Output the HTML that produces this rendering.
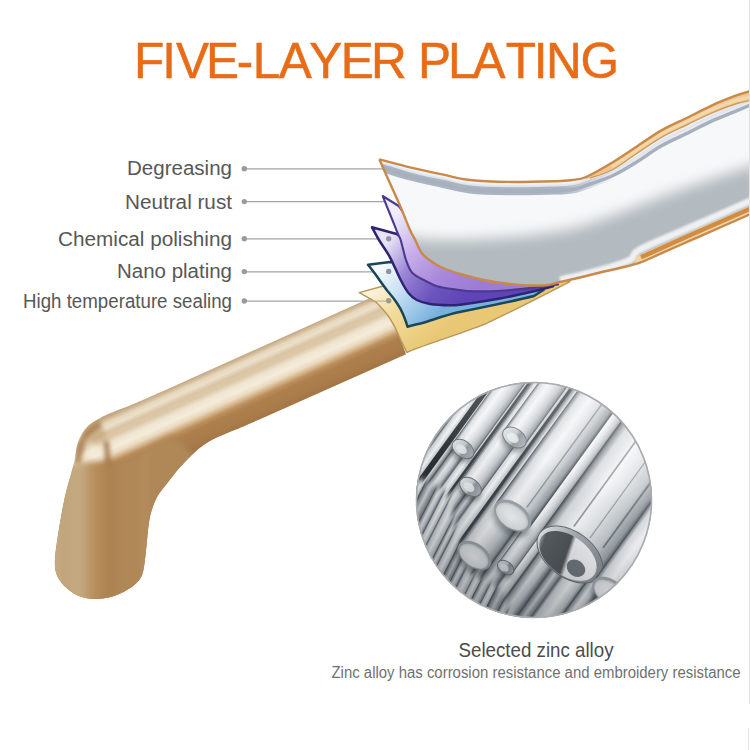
<!DOCTYPE html>
<html><head><meta charset="utf-8">
<style>
html,body{margin:0;padding:0;background:#fff;}
body{width:750px;height:750px;overflow:hidden;position:relative;}
svg{position:absolute;left:0;top:0;}
text{font-family:"Liberation Sans",sans-serif;}
</style></head>
<body>
<svg width="750" height="750" viewBox="0 0 750 750">
<defs>
  <linearGradient id="goldArm" gradientUnits="userSpaceOnUse" x1="280" y1="338.5" x2="306.8" y2="398.1">
    <stop offset="0" stop-color="#c2a680"/>
    <stop offset="0.04" stop-color="#d2ba98"/>
    <stop offset="0.09" stop-color="#e6d6bc"/>
    <stop offset="0.15" stop-color="#ece0ca"/>
    <stop offset="0.23" stop-color="#dac4a4"/>
    <stop offset="0.31" stop-color="#dcc8a8"/>
    <stop offset="0.39" stop-color="#efe4d0"/>
    <stop offset="0.48" stop-color="#f4ecda"/>
    <stop offset="0.56" stop-color="#eadac0"/>
    <stop offset="0.62" stop-color="#d6b68c"/>
    <stop offset="0.68" stop-color="#bc905e"/>
    <stop offset="0.75" stop-color="#ad7f4c"/>
    <stop offset="0.9" stop-color="#a97c4a"/>
    <stop offset="1" stop-color="#a47646"/>
  </linearGradient>
  <linearGradient id="goldLeg" gradientUnits="userSpaceOnUse" x1="56" y1="0" x2="148" y2="0">
    <stop offset="0" stop-color="#c4aa84"/>
    <stop offset="0.065" stop-color="#c0a47c"/>
    <stop offset="0.27" stop-color="#c6aa80"/>
    <stop offset="0.4" stop-color="#b89060"/>
    <stop offset="0.565" stop-color="#ac8250"/>
    <stop offset="0.8" stop-color="#b08858"/>
    <stop offset="0.93" stop-color="#b08858"/>
    <stop offset="0.97" stop-color="#b48e62"/>
    <stop offset="1" stop-color="#b08858"/>
  </linearGradient>
  <radialGradient id="bendHL" cx="93" cy="451" r="9" gradientUnits="userSpaceOnUse">
    <stop offset="0" stop-color="#f6ecd8" stop-opacity="0.95"/>
    <stop offset="1" stop-color="#f6ecd8" stop-opacity="0"/>
  </radialGradient>
  <radialGradient id="bendDk" cx="83" cy="436" r="10" gradientUnits="userSpaceOnUse">
    <stop offset="0" stop-color="#a87a48" stop-opacity="0.8"/>
    <stop offset="1" stop-color="#a87a48" stop-opacity="0"/>
  </radialGradient>
  <linearGradient id="lav" gradientUnits="userSpaceOnUse" x1="395" y1="215" x2="470" y2="292">
    <stop offset="0" stop-color="#f0ecfa"/>
    <stop offset="0.35" stop-color="#c8b0ea"/>
    <stop offset="0.7" stop-color="#a888dc"/>
    <stop offset="1" stop-color="#9c7cd6"/>
  </linearGradient>
  <linearGradient id="purp" gradientUnits="userSpaceOnUse" x1="385" y1="245" x2="460" y2="305">
    <stop offset="0" stop-color="#e8e4f6"/>
    <stop offset="0.35" stop-color="#9a84d4"/>
    <stop offset="0.7" stop-color="#6c54be"/>
    <stop offset="1" stop-color="#5e44b6"/>
  </linearGradient>
  <linearGradient id="blue" gradientUnits="userSpaceOnUse" x1="378" y1="270" x2="430" y2="322">
    <stop offset="0" stop-color="#f6fafd"/>
    <stop offset="0.45" stop-color="#c4def2"/>
    <stop offset="1" stop-color="#78b0de"/>
  </linearGradient>
  <linearGradient id="yel" gradientUnits="userSpaceOnUse" x1="370" y1="292" x2="420" y2="350">
    <stop offset="0" stop-color="#faf3de"/>
    <stop offset="0.4" stop-color="#f2dc9c"/>
    <stop offset="1" stop-color="#e8c874"/>
  </linearGradient>
  <linearGradient id="goldband" gradientUnits="userSpaceOnUse" x1="0" y1="0" x2="5" y2="10">
    <stop offset="0" stop-color="#c98c46"/>
    <stop offset="1" stop-color="#e6b676"/>
  </linearGradient>
  <filter id="blur6" filterUnits="userSpaceOnUse" x="0" y="0" width="750" height="750"><feGaussianBlur stdDeviation="7"/></filter>
  <filter id="blur3" filterUnits="userSpaceOnUse" x="0" y="0" width="750" height="750"><feGaussianBlur stdDeviation="3"/></filter>
  <filter id="blurE" filterUnits="userSpaceOnUse" x="0" y="0" width="750" height="750"><feGaussianBlur stdDeviation="1.9"/></filter>
  <filter id="blurR" filterUnits="userSpaceOnUse" x="-400" y="-400" width="800" height="800"><feGaussianBlur stdDeviation="2.5"/></filter>
  <filter id="blur1" filterUnits="userSpaceOnUse" x="0" y="0" width="750" height="750"><feGaussianBlur stdDeviation="1"/></filter>
  <filter id="blur2" filterUnits="userSpaceOnUse" x="0" y="0" width="750" height="750"><feGaussianBlur stdDeviation="2"/></filter>
  <clipPath id="silverClip"><path d="M379.3,159.3 C384.4,160.6 399.3,164.7 410.0,167.3 C420.7,169.9 433.3,172.6 443.3,174.7 C453.3,176.8 459.2,178.8 470.0,180.0 C480.8,181.2 493.7,181.7 508.0,181.9 C522.3,182.1 545.3,181.5 556.0,181.2 C566.7,180.9 567.0,180.7 572.0,180.0 C577.0,179.3 579.6,179.8 586.0,177.0 C592.4,174.2 602.3,168.5 610.6,163.5 C618.9,158.5 627.6,152.5 636.0,147.0 C644.4,141.5 652.6,135.4 661.0,130.6 C669.4,125.8 678.1,122.2 686.6,118.0 C695.1,113.8 703.6,109.1 712.0,105.3 C720.4,101.5 730.3,97.7 737.0,95.2 C743.7,92.7 749.5,91.3 752.0,90.5 L752,213.4 C746.7,215.8 730.3,223.0 720.0,227.5 C709.7,232.0 700.0,236.3 690.0,240.7 C680.0,245.1 668.3,250.2 660.0,253.9 C651.7,257.6 646.7,260.3 640.0,262.7 C633.3,265.1 626.7,266.4 620.0,268.0 C613.3,269.6 606.7,270.9 600.0,272.5 C593.3,274.1 586.7,275.9 580.0,277.5 C573.3,279.1 565.7,280.7 560.0,282.0 C554.3,283.3 551.3,284.6 546.0,285.2 C540.7,285.8 534.0,285.6 528.0,285.4 C522.0,285.2 517.0,284.8 510.0,284.0 C503.0,283.2 494.0,282.1 486.0,280.5 C478.0,278.9 469.2,276.6 462.0,274.5 C454.8,272.4 448.3,270.3 443.0,268.0 C437.7,265.7 433.7,263.2 430.0,260.5 C426.3,257.8 423.4,255.4 421.0,252.0 C418.6,248.6 417.1,243.7 415.3,240.0 C413.5,236.3 412.4,235.4 410.0,230.0 C407.6,224.6 404.0,215.1 400.7,207.3 C397.4,199.5 393.6,191.3 390.0,183.3 C386.4,175.3 381.1,163.3 379.3,159.3 Z"/></clipPath>
  <clipPath id="goldClip"><path d="M369,298.4 L170,388 C164.4,390.4 146.7,398.5 136.7,402.7 C126.7,406.9 116.7,410.4 110.0,413.3 C103.3,416.2 100.5,417.8 96.7,420.0 C92.9,422.2 90.0,424.0 87.3,426.7 C84.6,429.4 82.5,432.7 80.7,436.0 C78.9,439.3 77.7,442.7 76.7,446.7 C75.7,450.7 75.6,455.6 74.7,460.0 C73.8,464.4 72.9,466.6 71.2,473.3 C69.5,480.0 66.5,489.3 64.3,500.0 C62.0,510.7 59.3,527.0 57.7,537.3 C56.1,547.6 55.0,555.4 54.9,561.6 C54.8,567.8 55.2,570.7 56.8,574.7 C58.4,578.8 60.9,582.5 64.3,585.9 C67.7,589.3 72.6,593.0 77.3,595.2 C82.0,597.4 86.7,598.6 92.3,598.9 C97.9,599.2 105.1,598.5 111.0,597.0 C116.9,595.5 123.0,592.4 127.7,589.6 C132.4,586.8 136.3,583.7 139.0,580.3 C141.7,576.9 142.4,574.6 143.6,569.0 C144.8,563.4 145.6,553.9 146.4,546.7 C147.2,539.5 147.7,531.8 148.5,526.0 C149.3,520.2 149.7,517.0 151.2,512.0 C152.7,507.0 154.9,500.8 157.6,496.0 C160.3,491.2 163.5,488.0 167.2,483.2 C170.9,478.4 175.2,472.5 180.0,467.2 C184.8,461.9 190.7,455.7 196.0,451.2 C201.3,446.7 205.3,443.6 212.0,440.0 C218.7,436.4 228.0,433.1 236.0,429.6 C244.0,426.1 256.0,420.9 260.0,419.2 L406,354.2 C405.1,351.8 402.5,344.4 400.7,340.0 C398.9,335.6 397.5,332.2 395.3,328.0 C393.1,323.8 390.4,318.9 387.3,314.7 C384.2,310.5 379.8,305.4 376.7,302.7 C373.6,300.0 370.3,299.2 369.0,298.4 Z"/></clipPath>
  <clipPath id="circ"><circle cx="534" cy="500" r="118"/></clipPath>
  <linearGradient id="rA" x1="0" y1="0" x2="0" y2="1">
    <stop offset="0" stop-color="#3a4046"/>
    <stop offset="0.12" stop-color="#8f969c"/>
    <stop offset="0.4" stop-color="#e8ebed"/>
    <stop offset="0.7" stop-color="#c6cbd0"/>
    <stop offset="1" stop-color="#5a6168"/>
  </linearGradient>
  <linearGradient id="rB" x1="0" y1="0" x2="0" y2="1">
    <stop offset="0" stop-color="#50575e"/>
    <stop offset="0.15" stop-color="#cfd4d8"/>
    <stop offset="0.5" stop-color="#f4f6f7"/>
    <stop offset="0.85" stop-color="#bfc5ca"/>
    <stop offset="1" stop-color="#6a7178"/>
  </linearGradient>
  <linearGradient id="rC" x1="0" y1="0" x2="0" y2="1">
    <stop offset="0" stop-color="#444a50"/>
    <stop offset="0.2" stop-color="#8f969c"/>
    <stop offset="0.5" stop-color="#d4d8dc"/>
    <stop offset="1" stop-color="#6a7178"/>
  </linearGradient>
  <linearGradient id="rodf" x1="0" y1="0" x2="0" y2="1">
    <stop offset="0" stop-color="#3e444a"/>
    <stop offset="0.04" stop-color="#8a9096"/>
    <stop offset="0.12" stop-color="#d8dcdf"/>
    <stop offset="0.35" stop-color="#f4f5f6"/>
    <stop offset="0.55" stop-color="#e0e3e6"/>
    <stop offset="0.75" stop-color="#c4c9cd"/>
    <stop offset="0.92" stop-color="#969da3"/>
    <stop offset="1" stop-color="#454b51"/>
  </linearGradient>
  <radialGradient id="endg" cx="0.4" cy="0.4" r="0.7">
    <stop offset="0" stop-color="#f4f6f7"/>
    <stop offset="0.5" stop-color="#c2c7cc"/>
    <stop offset="1" stop-color="#80878d"/>
  </radialGradient>
  <linearGradient id="nutg" x1="0" y1="0" x2="0" y2="1">
    <stop offset="0" stop-color="#dfe2e5"/>
    <stop offset="0.45" stop-color="#c4c9cd"/>
    <stop offset="0.6" stop-color="#8e959b"/>
    <stop offset="1" stop-color="#a9afb4"/>
  </linearGradient>
  <radialGradient id="faceg" cx="0.45" cy="0.5" r="0.6">
    <stop offset="0" stop-color="#f6f7f8"/>
    <stop offset="0.7" stop-color="#e2e5e8"/>
    <stop offset="1" stop-color="#b4bac0"/>
  </radialGradient>
  <radialGradient id="tubeg" cx="0.35" cy="0.3" r="0.8">
    <stop offset="0" stop-color="#4e5459"/>
    <stop offset="0.5" stop-color="#6e757b"/>
    <stop offset="0.75" stop-color="#c8ccd0"/>
    <stop offset="1" stop-color="#eef0f2"/>
  </radialGradient>
  <linearGradient id="bigface" x1="0" y1="0" x2="0" y2="1">
    <stop offset="0" stop-color="#c8ccd0"/>
    <stop offset="0.12" stop-color="#5a6064"/>
    <stop offset="0.45" stop-color="#50565b"/>
    <stop offset="0.52" stop-color="#f4f5f6"/>
    <stop offset="0.85" stop-color="#f0f2f3"/>
    <stop offset="1" stop-color="#c4c9cd"/>
  </linearGradient>
  <linearGradient id="circShade" gradientUnits="userSpaceOnUse" x1="500" y1="620" x2="590" y2="400">
    <stop offset="0" stop-color="#20262c" stop-opacity="0.36"/>
    <stop offset="0.5" stop-color="#20262c" stop-opacity="0.04"/>
    <stop offset="0.7" stop-color="#ffffff" stop-opacity="0.1"/>
    <stop offset="1" stop-color="#ffffff" stop-opacity="0.25"/>
  </linearGradient>
  <mask id="llmask" maskUnits="userSpaceOnUse" x="380" y="360" width="300" height="300"><path d="M400,470 L448,492 L456,530 L468,572 L500,588 L520,640 L400,640 Z" fill="#fff" filter="url(#blur3)"/></mask>
</defs>

<!-- Title -->
<text x="134 162.3 176 206 236.7 252.7 278.8 309.3 340.8 371.1 395 418 448.1 472.4 505.8 533.8 546 580.5" y="78.3" font-size="49.5" fill="#e86c18" stroke="#e86c18" stroke-width="0.5">FIVE-LAYER PLATING</text>

<!-- Labels -->
<g font-size="19.5" fill="#575757" text-anchor="end">
  <text x="232" y="174.6" textLength="105" lengthAdjust="spacingAndGlyphs">Degreasing</text>
  <text x="232" y="208.6" textLength="107" lengthAdjust="spacingAndGlyphs">Neutral rust</text>
  <text x="232" y="245.8" textLength="174" lengthAdjust="spacingAndGlyphs">Chemical polishing</text>
  <text x="232" y="277.6" textLength="115" lengthAdjust="spacingAndGlyphs">Nano plating</text>
  <text x="232" y="307.6" textLength="209" lengthAdjust="spacingAndGlyphs">High temperature sealing</text>
</g>
<g stroke="#a4a4a4" stroke-width="1.3">
  <line x1="244" y1="168.8" x2="383" y2="168.8"/>
  <line x1="244" y1="201.7" x2="384" y2="201.7"/>
  <line x1="244" y1="238.8" x2="389" y2="238.8"/>
  <line x1="244" y1="271.8" x2="389" y2="271.8"/>
  <line x1="244" y1="301.1" x2="362" y2="301.1"/>
</g>
<g fill="#9a9a9a">
  <circle cx="244.3" cy="168.7" r="2.7"/>
  <circle cx="244.3" cy="201.6" r="2.7"/>
  <circle cx="244.3" cy="238.7" r="2.7"/>
  <circle cx="244.3" cy="271.6" r="2.7"/>
  <circle cx="244.3" cy="301" r="2.7"/>
</g>

<!-- Gold handle -->
<path fill="url(#goldArm)" d="M369,298.4 L170,388 C164.4,390.4 146.7,398.5 136.7,402.7 C126.7,406.9 116.7,410.4 110.0,413.3 C103.3,416.2 100.5,417.8 96.7,420.0 C92.9,422.2 90.0,424.0 87.3,426.7 C84.6,429.4 82.5,432.7 80.7,436.0 C78.9,439.3 77.7,442.7 76.7,446.7 C75.7,450.7 75.6,455.6 74.7,460.0 C73.8,464.4 72.9,466.6 71.2,473.3 C69.5,480.0 66.5,489.3 64.3,500.0 C62.0,510.7 59.3,527.0 57.7,537.3 C56.1,547.6 55.0,555.4 54.9,561.6 C54.8,567.8 55.2,570.7 56.8,574.7 C58.4,578.8 60.9,582.5 64.3,585.9 C67.7,589.3 72.6,593.0 77.3,595.2 C82.0,597.4 86.7,598.6 92.3,598.9 C97.9,599.2 105.1,598.5 111.0,597.0 C116.9,595.5 123.0,592.4 127.7,589.6 C132.4,586.8 136.3,583.7 139.0,580.3 C141.7,576.9 142.4,574.6 143.6,569.0 C144.8,563.4 145.6,553.9 146.4,546.7 C147.2,539.5 147.7,531.8 148.5,526.0 C149.3,520.2 149.7,517.0 151.2,512.0 C152.7,507.0 154.9,500.8 157.6,496.0 C160.3,491.2 163.5,488.0 167.2,483.2 C170.9,478.4 175.2,472.5 180.0,467.2 C184.8,461.9 190.7,455.7 196.0,451.2 C201.3,446.7 205.3,443.6 212.0,440.0 C218.7,436.4 228.0,433.1 236.0,429.6 C244.0,426.1 256.0,420.9 260.0,419.2 L406,354.2 C405.1,351.8 402.5,344.4 400.7,340.0 C398.9,335.6 397.5,332.2 395.3,328.0 C393.1,323.8 390.4,318.9 387.3,314.7 C384.2,310.5 379.8,305.4 376.7,302.7 C373.6,300.0 370.3,299.2 369.0,298.4 Z"/>
<g clip-path="url(#goldClip)">
  <path d="M40,464 L92,462 C108,464 125,460 140,452 L172,436 L210,470 L175,620 L40,620 Z" fill="url(#goldLeg)" filter="url(#blur3)"/>
  <ellipse cx="95" cy="434" rx="11" ry="7" fill="#c6a476" fill-opacity="0.7" filter="url(#blur2)"/>
  <path d="M106,441 C107,448 108,455 108,464" fill="none" stroke="#9a6e40" stroke-width="5.5" stroke-opacity="0.8" filter="url(#blurE)"/>
  <path d="M101,424 C91,428 85,434 81.5,442 C79.5,449 78.5,456 77.5,463" fill="none" stroke="#a47848" stroke-width="7" stroke-opacity="0.8" filter="url(#blurE)"/>
  <ellipse cx="93" cy="451" rx="9" ry="8" fill="url(#bendHL)"/>
</g>

<!-- Layers -->
<path fill="url(#yel)" stroke="#b89658" stroke-width="1.4" stroke-linejoin="round" d="M359.3,292.7 L383.3,286 L430,272 L520,270 L570,281.6 C548,293 515,310 486,323.6 C460,334 430,343 406.8,352.4 C404,346 402,343 400.7,340 C398,333 396,330 395.3,328 C392,322 390,318 387.3,314.7 C383,309 380,306 376.7,302.7 C370,298 365,296 359.3,292.7 Z"/>
<line x1="362" y1="301.1" x2="386" y2="301.1" stroke="#b8a890" stroke-width="1"/>
<circle cx="388.7" cy="300.7" r="2.7" fill="#a09a88"/>
<path fill="url(#blue)" stroke="#1b4658" stroke-width="2.5" stroke-linejoin="round" d="M368,264.7 L390,262 L430,265 L520,280 L543.6,290 C540,292 537,294 534,296 C510,302 480,308 462,311.6 C445,315 433,320 423.3,322.7 C416,324.5 411,325.5 407.5,326.7 C406,321 404.5,318 403.3,314.7 C401,309 399,306 396.7,302.7 C393,297 390,294 387.3,290.7 C383,285 380,281 376.7,276 C373,271 370.5,268 368,264.7 Z"/>
<circle cx="388.7" cy="271.4" r="2.7" fill="#8a96a0"/>
<path fill="url(#purp)" stroke="#2e2474" stroke-width="2.5" stroke-linejoin="round" d="M396.7,234 L372,227.3 C373.2,229.4 376.0,235.0 379.0,240.0 C382.0,245.0 386.4,250.6 390.0,257.3 C393.6,264.0 397.6,274.0 400.7,280.0 C403.8,286.0 406.0,290.0 408.7,293.3 C411.4,296.6 413.1,298.2 416.7,300.0 C420.2,301.8 424.4,303.1 430.0,304.0 C435.6,304.9 444.7,305.2 450.0,305.3 C455.3,305.4 453.7,305.5 462.0,304.4 C470.3,303.3 488.0,300.7 500.0,298.5 C512.0,296.3 525.2,293.2 534.0,291.2 C542.8,289.2 549.8,287.2 553.0,286.4 L540,275 L450,262 L405,240 Z"/>
<circle cx="388.7" cy="238.7" r="2.7" fill="#9a94a8"/>
<path fill="url(#lav)" stroke="#4a3a90" stroke-width="2.1" stroke-linejoin="round" d="M398.7,206 L382.7,196 C383.9,199.0 387.4,207.7 390.0,214.0 C392.6,220.3 396.2,229.7 398.0,234.0 C399.8,238.3 399.8,237.3 400.7,240.0 C401.6,242.7 402.4,246.7 403.3,250.0 C404.2,253.3 404.6,256.2 406.0,260.0 C407.4,263.8 408.9,269.1 412.0,272.5 C415.1,275.9 420.4,278.2 424.7,280.5 C429.0,282.8 432.8,285.0 438.0,286.5 C443.2,288.0 450.0,288.7 456.0,289.5 C462.0,290.3 465.8,291.1 474.0,291.3 C482.2,291.5 495.0,291.1 505.0,290.5 C515.0,289.9 525.2,288.6 534.0,287.6 C542.8,286.6 554.0,285.0 558.0,284.5 L540,272 L440,250 L405,215 Z"/>

<!-- Silver main -->
<linearGradient id="rimfade" gradientUnits="userSpaceOnUse" x1="560" y1="0" x2="615" y2="0">
  <stop offset="0" stop-color="#abb4c2" stop-opacity="1"/>
  <stop offset="1" stop-color="#abb4c2" stop-opacity="0"/>
</linearGradient>
<g clip-path="url(#silverClip)">
  <rect x="370" y="80" width="390" height="220" fill="#f7f8f9"/>
  <path d="M395.0,236.0 C402.5,236.7 422.5,239.7 440.0,240.0 C457.5,240.3 480.0,239.5 500.0,238.0 C520.0,236.5 543.3,234.0 560.0,231.0 C576.7,228.0 585.0,225.0 600.0,220.0 C615.0,215.0 633.3,207.2 650.0,201.0 C666.7,194.8 681.7,189.3 700.0,183.0 C718.3,176.7 750.0,166.3 760.0,163.0 L760,300 L395,300 Z" fill="#b3bac0" filter="url(#blur6)"/>
  <path d="M560.0,280.0 C566.7,278.3 588.3,273.3 600.0,270.0 C611.7,266.7 623.3,263.4 630.0,260.0 C636.7,256.6 630.0,254.9 640.0,249.5 C650.0,244.1 670.8,235.9 690.0,227.5 C709.2,219.1 744.2,203.7 755.0,198.9" fill="none" stroke="#eef0f1" stroke-width="7" filter="url(#blur1)"/>
  <path d="M382.0,163.5 C386.7,164.9 399.8,169.3 410.0,172.0 C420.2,174.7 433.3,177.3 443.3,179.5 C453.3,181.7 459.2,183.8 470.0,185.0 C480.8,186.2 493.7,186.6 508.0,186.8 C522.3,187.0 544.8,186.5 556.0,186.1 C567.2,185.7 569.3,185.6 575.0,184.5 C580.7,183.4 583.8,181.7 590.0,179.5 C596.2,177.3 604.3,175.1 612.0,171.5 C619.7,167.9 627.8,163.0 636.0,158.0 C644.2,153.0 652.6,146.4 661.0,141.6 C669.4,136.8 678.1,133.2 686.6,129.0 C695.1,124.8 703.6,120.1 712.0,116.3 C720.4,112.5 729.8,109.2 737.0,106.2 C744.2,103.2 752.0,99.8 755.0,98.5" fill="none" stroke="#dde2ea" stroke-width="3.5" filter="url(#blur1)"/>
  <path d="M382.0,168.0 C386.7,169.4 399.8,173.8 410.0,176.5 C420.2,179.2 433.3,181.8 443.3,184.0 C453.3,186.2 459.2,188.3 470.0,189.5 C480.8,190.7 493.7,191.1 508.0,191.3 C522.3,191.5 544.8,191.0 556.0,190.6 C567.2,190.2 569.3,190.1 575.0,189.0 C580.7,187.9 583.8,186.2 590.0,184.0 C596.2,181.8 608.3,177.3 612.0,176.0" fill="none" stroke="url(#rimfade)" stroke-width="8"/>
  <path d="M382.0,168.0 C386.7,169.4 399.8,173.8 410.0,176.5 C420.2,179.2 433.3,181.8 443.3,184.0 C453.3,186.2 459.2,188.3 470.0,189.5 C480.8,190.7 493.7,191.1 508.0,191.3 C522.3,191.5 544.8,191.0 556.0,190.6 C567.2,190.2 569.3,190.1 575.0,189.0 C580.7,187.9 583.8,186.2 590.0,184.0 C596.2,181.8 604.3,179.6 612.0,176.0 C619.7,172.4 627.8,167.5 636.0,162.5 C644.2,157.5 652.6,150.9 661.0,146.1 C669.4,141.3 678.1,137.7 686.6,133.5 C695.1,129.3 703.6,124.6 712.0,120.8 C720.4,117.0 729.8,113.7 737.0,110.7 C744.2,107.7 752.0,104.3 755.0,103.0" fill="none" stroke="#a7b0bd" stroke-width="3.5"/>
  <path d="M580.0,178.6 C581.0,178.3 580.9,179.5 586.0,177.0 C591.1,174.5 602.3,168.5 610.6,163.5 C618.9,158.5 627.6,152.5 636.0,147.0 C644.4,141.5 652.6,135.4 661.0,130.6 C669.4,125.8 678.1,122.2 686.6,118.0 C695.1,113.8 703.6,109.1 712.0,105.3 C720.4,101.5 730.3,97.7 737.0,95.2 C743.7,92.7 749.5,91.3 752.0,90.5 L752,100 C749.5,100.6 743.7,101.4 737.0,103.5 C730.3,105.6 720.4,109.2 712.0,112.8 C703.6,116.4 695.1,120.9 686.6,125.0 C678.1,129.1 669.4,132.8 661.0,137.6 C652.6,142.4 644.2,148.6 636.0,154.0 C627.8,159.4 619.7,166.0 612.0,170.0 C604.3,174.0 595.3,176.4 590.0,178.0 C584.7,179.6 581.7,179.2 580.0,179.5 Z" fill="#eec590"/>
  <path d="M612.0,166.7 C616.0,164.0 627.8,156.1 636.0,150.7 C644.2,145.3 652.6,139.1 661.0,134.3 C669.4,129.5 678.1,125.8 686.6,121.7 C695.1,117.6 703.6,113.1 712.0,109.5 C720.4,105.9 730.3,102.3 737.0,100.2 C743.7,98.1 749.5,97.3 752.0,96.7" fill="none" stroke="#f6dfb6" stroke-width="2.5" filter="url(#blur1)"/>
  <path d="M590.0,178.0 C593.7,176.7 604.3,174.0 612.0,170.0 C619.7,166.0 627.8,159.4 636.0,154.0 C644.2,148.6 652.6,142.4 661.0,137.6 C669.4,132.8 678.1,129.1 686.6,125.0 C695.1,120.9 703.6,116.4 712.0,112.8 C720.4,109.2 730.3,105.6 737.0,103.5 C743.7,101.4 749.5,100.6 752.0,100.0" fill="none" stroke="#d29a58" stroke-width="1.4"/>
  <path d="M636.0,260.0 C636.8,259.1 632.0,259.1 641.0,254.5 C650.0,249.9 671.0,240.9 690.0,232.5 C709.0,224.1 744.2,208.7 755.0,203.9 L755,212.1 C744.2,216.9 709.2,232.3 690.0,240.7 C670.8,249.1 649.3,258.9 640.0,262.7 C630.7,266.5 635.0,263.4 634.0,263.5 Z" fill="#f2d4a2"/>
  <path d="M641.0,257.3 C649.2,253.6 671.0,243.7 690.0,235.3 C709.0,226.9 744.2,211.5 755.0,206.7" fill="none" stroke="#cf8c42" stroke-width="4.5"/>
</g>
<path d="M379.3,159.3 C384.4,160.6 399.3,164.7 410.0,167.3 C420.7,169.9 433.3,172.6 443.3,174.7 C453.3,176.8 459.2,178.8 470.0,180.0 C480.8,181.2 493.7,181.7 508.0,181.9 C522.3,182.1 545.3,181.5 556.0,181.2 C566.7,180.9 567.0,180.7 572.0,180.0 C577.0,179.3 579.6,179.8 586.0,177.0 C592.4,174.2 602.3,168.5 610.6,163.5 C618.9,158.5 627.6,152.5 636.0,147.0 C644.4,141.5 652.6,135.4 661.0,130.6 C669.4,125.8 678.1,122.2 686.6,118.0 C695.1,113.8 703.6,109.1 712.0,105.3 C720.4,101.5 730.3,97.7 737.0,95.2 C743.7,92.7 749.5,91.3 752.0,90.5" fill="none" stroke="#c8894a" stroke-width="2.4"/>
<path d="M752.0,213.4 C746.7,215.8 730.3,223.0 720.0,227.5 C709.7,232.0 700.0,236.3 690.0,240.7 C680.0,245.1 668.3,250.2 660.0,253.9 C651.7,257.6 646.7,260.3 640.0,262.7 C633.3,265.1 626.7,266.4 620.0,268.0 C613.3,269.6 606.7,270.9 600.0,272.5 C593.3,274.1 586.7,275.9 580.0,277.5 C573.3,279.1 565.7,280.7 560.0,282.0 C554.3,283.3 551.3,284.6 546.0,285.2 C540.7,285.8 534.0,285.6 528.0,285.4 C522.0,285.2 517.0,284.8 510.0,284.0 C503.0,283.2 494.0,282.1 486.0,280.5 C478.0,278.9 469.2,276.6 462.0,274.5 C454.8,272.4 448.3,270.3 443.0,268.0 C437.7,265.7 433.7,263.2 430.0,260.5 C426.3,257.8 423.4,255.4 421.0,252.0 C418.6,248.6 417.1,243.7 415.3,240.0 C413.5,236.3 412.4,235.4 410.0,230.0 C407.6,224.6 404.0,215.1 400.7,207.3 C397.4,199.5 393.6,191.3 390.0,183.3 C386.4,175.3 381.1,163.3 379.3,159.3" fill="none" stroke="#c8894a" stroke-width="2.4"/>

<!-- Circle of rods -->
<g clip-path="url(#circ)">
  <rect x="410" y="378" width="250" height="250" fill="#b8bcc0"/>
  <g transform="translate(534 500) rotate(-54)">
    <rect x="-150" y="-125.0" width="300" height="9.6" fill="url(#rA)"/>
<rect x="-150" y="-116.0" width="300" height="12.6" fill="url(#rB)"/>
<rect x="-150" y="-104.0" width="300" height="8.6" fill="url(#rC)"/>
<rect x="-150" y="-96.0" width="300" height="13.6" fill="url(#rA)"/>
<rect x="-150" y="-83.0" width="300" height="10.6" fill="url(#rB)"/>
<rect x="-150" y="-73.0" width="300" height="14.6" fill="url(#rA)"/>
<rect x="-150" y="-59.0" width="300" height="9.6" fill="url(#rC)"/>
<rect x="-150" y="-50.0" width="300" height="15.6" fill="url(#rB)"/>
<rect x="-150" y="-35.0" width="300" height="11.6" fill="url(#rA)"/>
<rect x="-150" y="-24.0" width="300" height="16.6" fill="url(#rB)"/>
<rect x="-150" y="-8.0" width="300" height="10.6" fill="url(#rC)"/>
<rect x="-150" y="2.0" width="300" height="18.6" fill="url(#rA)"/>
<rect x="-150" y="20.0" width="300" height="14.6" fill="url(#rB)"/>
<rect x="-150" y="34.0" width="300" height="20.6" fill="url(#rA)"/>
<rect x="-150" y="54.0" width="300" height="12.6" fill="url(#rC)"/>
<rect x="-150" y="66.0" width="300" height="24.6" fill="url(#rB)"/>
<rect x="-150" y="90.0" width="300" height="16.6" fill="url(#rA)"/>
<rect x="-150" y="106.0" width="300" height="26.6" fill="url(#rB)"/>
<rect x="-150" y="-106.0" width="300" height="5.5" fill="#2a3034"/>
<rect x="-150" y="-74.0" width="300" height="2.5" fill="#3a4045"/>
<rect x="-150" y="-37.0" width="300" height="2.5" fill="#3a4045"/>
<rect x="-150" y="-124.0" width="300" height="3" fill="#50575d"/>
  </g>
  <g mask="url(#llmask)">
    <g transform="translate(534 500) rotate(-63)">
    <rect x="-150" y="-130.0" width="300" height="8.6" fill="url(#rB)"/>
<rect x="-150" y="-122.0" width="300" height="10.6" fill="url(#rA)"/>
<rect x="-150" y="-112.0" width="300" height="7.6" fill="url(#rB)"/>
<rect x="-150" y="-105.0" width="300" height="12.6" fill="url(#rC)"/>
<rect x="-150" y="-93.0" width="300" height="9.6" fill="url(#rA)"/>
<rect x="-150" y="-84.0" width="300" height="8.6" fill="url(#rB)"/>
<rect x="-150" y="-76.0" width="300" height="12.6" fill="url(#rB)"/>
<rect x="-150" y="-64.0" width="300" height="7.6" fill="url(#rA)"/>
<rect x="-150" y="-57.0" width="300" height="10.6" fill="url(#rB)"/>
<rect x="-150" y="-47.0" width="300" height="9.6" fill="url(#rC)"/>
<rect x="-150" y="-38.0" width="300" height="8.6" fill="url(#rA)"/>
<rect x="-150" y="-30.0" width="300" height="11.6" fill="url(#rB)"/>
<rect x="-150" y="-19.0" width="300" height="8.6" fill="url(#rB)"/>
<rect x="-150" y="-11.0" width="300" height="10.6" fill="url(#rA)"/>
<rect x="-150" y="-1.0" width="300" height="7.6" fill="url(#rB)"/>
<rect x="-150" y="6.0" width="300" height="12.6" fill="url(#rC)"/>
<rect x="-150" y="18.0" width="300" height="9.6" fill="url(#rA)"/>
<rect x="-150" y="27.0" width="300" height="8.6" fill="url(#rB)"/>
<rect x="-150" y="35.0" width="300" height="12.6" fill="url(#rB)"/>
<rect x="-150" y="47.0" width="300" height="7.6" fill="url(#rA)"/>
<rect x="-150" y="54.0" width="300" height="10.6" fill="url(#rB)"/>
<rect x="-150" y="64.0" width="300" height="9.6" fill="url(#rC)"/>
<rect x="-150" y="73.0" width="300" height="8.6" fill="url(#rA)"/>
<rect x="-150" y="81.0" width="300" height="11.6" fill="url(#rB)"/>
<rect x="-150" y="92.0" width="300" height="8.6" fill="url(#rB)"/>
<rect x="-150" y="100.0" width="300" height="10.6" fill="url(#rA)"/>
<rect x="-150" y="110.0" width="300" height="7.6" fill="url(#rB)"/>
<rect x="-150" y="117.0" width="300" height="12.6" fill="url(#rC)"/>
<rect x="-150" y="129.0" width="300" height="9.6" fill="url(#rA)"/>
    </g>
  </g>
  <g transform="translate(534 500) rotate(-54)">
    <ellipse cx="-30.5" cy="-57.8" rx="8.2" ry="12.6" fill="#2e3439" fill-opacity="0.45" filter="url(#blurR)"/><rect x="-26.8" y="-71.0" width="246.8" height="24.0" fill="url(#rodf)"/><ellipse cx="-26.8" cy="-59.0" rx="8.2" ry="12.0" fill="url(#nutg)" stroke="#6a7177" stroke-width="1"/><ellipse cx="-27.9" cy="-60.2" rx="4.1" ry="6.0" fill="#e9ecee" fill-opacity="0.85"/>
<ellipse cx="-4.2" cy="-86.2" rx="8.2" ry="12.6" fill="#2e3439" fill-opacity="0.45" filter="url(#blurR)"/><rect x="-0.5" y="-99.4" width="220.5" height="24.0" fill="url(#rodf)"/><ellipse cx="-0.5" cy="-87.4" rx="8.2" ry="12.0" fill="url(#nutg)" stroke="#6a7177" stroke-width="1"/><ellipse cx="-1.6" cy="-88.6" rx="4.1" ry="6.0" fill="#e9ecee" fill-opacity="0.85"/>
<ellipse cx="34.9" cy="-51.2" rx="8.9" ry="13.7" fill="#2e3439" fill-opacity="0.45" filter="url(#blurR)"/><rect x="39.0" y="-65.5" width="181.0" height="26.0" fill="url(#rodf)"/><ellipse cx="39.0" cy="-52.5" rx="8.9" ry="13.0" fill="url(#nutg)" stroke="#6a7177" stroke-width="1"/><ellipse cx="37.8" cy="-53.8" rx="4.4" ry="6.5" fill="#e9ecee" fill-opacity="0.85"/>
<ellipse cx="-84.5" cy="-13.7" rx="11.8" ry="19.4" fill="#2e3439" fill-opacity="0.4" filter="url(#blurR)"/><rect x="-79.8" y="-34.6" width="299.8" height="38.0" fill="url(#rodf)"/><ellipse cx="-79.8" cy="-15.6" rx="11.8" ry="19.0" fill="#9ea5ab"/><ellipse cx="-80.7" cy="-15.6" rx="10.0" ry="16.3" fill="url(#faceg)"/>
<ellipse cx="-74.1" cy="17.7" rx="6.1" ry="9.5" fill="#2e3439" fill-opacity="0.45" filter="url(#blurR)"/><rect x="-71.3" y="7.8" width="291.3" height="18.0" fill="url(#rodf)"/><ellipse cx="-71.3" cy="16.8" rx="6.1" ry="9.0" fill="url(#nutg)" stroke="#6a7177" stroke-width="1"/><ellipse cx="-72.2" cy="15.9" rx="3.1" ry="4.5" fill="#e9ecee" fill-opacity="0.85"/>
<ellipse cx="-30.4" cy="-6.0" rx="13.0" ry="21.4" fill="#2e3439" fill-opacity="0.4" filter="url(#blurR)"/><rect x="-25.2" y="-29.1" width="245.2" height="42.0" fill="url(#rodf)"/><ellipse cx="-25.2" cy="-8.1" rx="13.0" ry="21.0" fill="#9ea5ab"/><ellipse cx="-26.2" cy="-8.1" rx="11.1" ry="18.1" fill="url(#faceg)"/>
<rect x="-23.0" y="24.0" width="243.0" height="74.0" fill="url(#rodf)"/><linearGradient id="bigf2" gradientUnits="userSpaceOnUse" x1="-36.0" y1="25.9" x2="-14.7" y2="94.6"><stop offset="0" stop-color="#e4e7e9"/><stop offset="0.12" stop-color="#5a5f64"/><stop offset="0.47" stop-color="#4e5358"/><stop offset="0.53" stop-color="#eceef0"/><stop offset="0.9" stop-color="#f3f4f5"/><stop offset="1" stop-color="#c4c9cd"/></linearGradient><linearGradient id="bigring" gradientUnits="userSpaceOnUse" x1="-36.0" y1="25.9" x2="-14.7" y2="94.6"><stop offset="0" stop-color="#f0f2f3"/><stop offset="0.4" stop-color="#b4babf"/><stop offset="1" stop-color="#868c92"/></linearGradient><ellipse cx="-23.0" cy="61.0" rx="22.9" ry="37.0" fill="url(#bigring)" stroke="#6a7076" stroke-width="1"/><ellipse cx="-25.3" cy="60.3" rx="19.7" ry="32.6" fill="url(#bigf2)"/><ellipse cx="-30.5" cy="74.0" rx="8" ry="10" fill="#6e757b"/>
<ellipse cx="-34.7" cy="117.6" rx="12.4" ry="20.4" fill="#2e3439" fill-opacity="0.4" filter="url(#blurR)"/><rect x="-29.8" y="95.6" width="249.8" height="40.0" fill="url(#rodf)"/><ellipse cx="-29.8" cy="115.6" rx="12.4" ry="20.0" fill="#9ea5ab"/><ellipse cx="-30.7" cy="115.6" rx="10.5" ry="17.2" fill="url(#faceg)"/>
<rect x="2.0" y="47.0" width="200" height="1.6" fill="#4a5157" fill-opacity="0.55"/>
<rect x="2.0" y="67.0" width="200" height="1.2" fill="#4a5157" fill-opacity="0.45"/>
<rect x="2.0" y="83.0" width="200" height="2.0" fill="#4a5157" fill-opacity="0.6"/>
<rect x="-10.2" y="-2.1" width="220" height="1.4" fill="#4a5157" fill-opacity="0.5"/>
  </g>
  <rect x="410" y="378" width="250" height="250" fill="url(#circShade)"/>
</g>
<circle cx="534" cy="500" r="117.5" fill="none" stroke="#a9abad" stroke-width="1.6"/>

<!-- Bottom text -->
<text x="458.5" y="656.8" font-size="19.8" fill="#4c4c4c" textLength="155" lengthAdjust="spacingAndGlyphs">Selected zinc alloy</text>
<text x="331.5" y="678.3" font-size="16" fill="#717171" textLength="409" lengthAdjust="spacingAndGlyphs">Zinc alloy has corrosion resistance and embroidery resistance</text>

<line x1="749.5" y1="0" x2="749.5" y2="704" stroke="#e2e2e2" stroke-width="1"/>
<line x1="748.5" y1="728" x2="748.5" y2="750" stroke="#e6e6e6" stroke-width="1"/>
</svg>
</body></html>
